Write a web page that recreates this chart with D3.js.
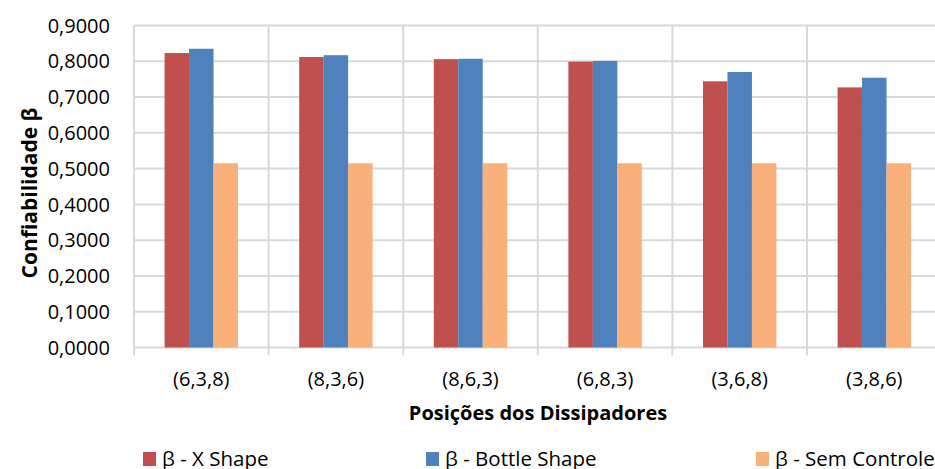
<!DOCTYPE html>
<html>
<head>
<meta charset="utf-8">
<script src="https://cdn.jsdelivr.net/npm/d3@7"></script>
<style>
  html, body { margin: 0; padding: 0; background: #fff; }
  svg { display: block; font-family: "Open Sans", "Noto Sans", sans-serif; }
</style>
</head>
<body>
<svg id="chart" width="935" height="469"></svg>
<script>
// Reliability per heat-sink position
const categories = ["(6,3,8)", "(8,3,6)", "(8,6,3)", "(6,8,3)", "(3,6,8)", "(3,8,6)"];
const seriesNames = ["β - X Shape", "β - Bottle Shape", "β - Sem Controle"];
const xShape      = [0.823, 0.812, 0.806, 0.799, 0.744, 0.727];
const bottleShape = [0.835, 0.817, 0.807, 0.801, 0.770, 0.754];
const semControle = [0.515, 0.515, 0.515, 0.515, 0.515, 0.515];
const seriesColors = ["#C0504D", "#4F81BD", "#F9B07A"];
const yTicks = [0, 0.1, 0.2, 0.3, 0.4, 0.5, 0.6, 0.7, 0.8, 0.9];

const seriesValues = [xShape, bottleShape, semControle];

const svg = d3.select("#chart");
const plot = { left: 134, right: 941.6, top: 25.5, bottom: 347.5 };

const x = d3.scaleBand()
  .domain(categories)
  .range([plot.left, plot.right])
  .paddingInner(0)
  .paddingOuter(0);

const y = d3.scaleLinear().domain([0, 0.9]).range([plot.bottom, plot.top]);

// bars occupy 3 of 5.5 bar-widths (250% gap)
const barW = x.bandwidth() / 5.5;
const xs = d3.scaleBand().domain(d3.range(3))
  .range([x.bandwidth() / 2 - 1.5 * barW, x.bandwidth() / 2 + 1.5 * barW]);

const gridColor = "#d9d9d9";
const fmt = v => d3.format(".4f")(v).replace(".", ",");

// horizontal gridlines
svg.append("g")
  .selectAll("line")
  .data(yTicks)
  .join("line")
  .attr("x1", plot.left).attr("x2", plot.right)
  .attr("y1", d => y(d)).attr("y2", d => y(d))
  .attr("stroke", gridColor).attr("stroke-width", 2);

// vertical gridlines at category boundaries, with tick marks below the axis
const bounds = categories.map(c => x(c)).concat([x(categories[categories.length - 1]) + x.bandwidth()]);
svg.append("g")
  .selectAll("line")
  .data(bounds)
  .join("line")
  .attr("x1", d => d).attr("x2", d => d)
  .attr("y1", plot.top).attr("y2", plot.bottom + 8)
  .attr("stroke", gridColor).attr("stroke-width", 2);

// bars
const groups = svg.append("g")
  .selectAll("g")
  .data(categories)
  .join("g")
  .attr("transform", d => `translate(${x(d)},0)`);

groups.selectAll("rect")
  .data((c, i) => seriesValues.map((s, k) => ({ k, v: s[i] })))
  .join("rect")
  .attr("x", d => xs(d.k))
  .attr("width", xs.bandwidth())
  .attr("y", d => y(d.v))
  .attr("height", d => y(0) - y(d.v))
  .attr("fill", d => seriesColors[d.k]);

// y tick labels
svg.append("g")
  .selectAll("text")
  .data(yTicks)
  .join("text")
  .attr("x", 110)
  .attr("y", d => y(d))
  .attr("dy", "0.36em")
  .attr("text-anchor", "end")
  .attr("font-size", 20)
  .attr("fill", "#000")
  .text(fmt);

// category labels
svg.append("g")
  .selectAll("text")
  .data(categories)
  .join("text")
  .attr("x", d => x(d) + x.bandwidth() / 2)
  .attr("y", 386)
  .attr("text-anchor", "middle")
  .attr("font-size", 20)
  .attr("fill", "#000")
  .text(d => d);

// axis titles
svg.append("text")
  .attr("x", 538)
  .attr("y", 420)
  .attr("text-anchor", "middle")
  .attr("font-size", 20)
  .attr("font-weight", "bold")
  .text("Posições dos Dissipadores");

svg.append("text")
  .attr("transform", "translate(37,193) rotate(-90)")
  .attr("text-anchor", "middle")
  .attr("font-size", 21)
  .attr("font-weight", "bold")
  .text("Confiabilidade β");

// legend
const legendX = [143, 426, 756];
const legend = svg.append("g")
  .selectAll("g")
  .data(seriesNames)
  .join("g")
  .attr("transform", (d, i) => `translate(${legendX[i]},452)`);
legend.append("rect")
  .attr("width", 13).attr("height", 14)
  .attr("fill", (d, i) => seriesColors[i]);
legend.append("text")
  .attr("x", 19).attr("y", 14)
  .attr("font-size", 20.5)
  .text(d => d);
</script>
</body>
</html>
